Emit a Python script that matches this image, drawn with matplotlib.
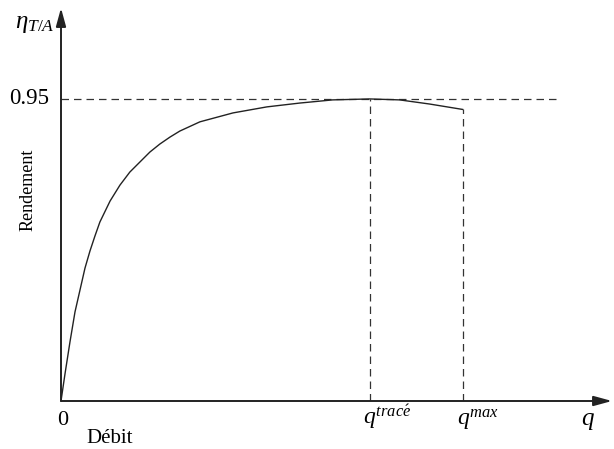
import matplotlib.pyplot as plt
import numpy as np

plt.rcParams['font.family'] = 'Liberation Serif'
plt.rcParams['mathtext.fontset'] = 'custom'
plt.rcParams['mathtext.rm'] = 'Liberation Serif'
plt.rcParams['mathtext.it'] = 'Liberation Serif:italic'

# efficiency curve, flow in units of q_trace
q = [0.0, 0.0129, 0.0291, 0.0453, 0.0615, 0.0777, 0.0939, 0.110, 0.126,
     0.159, 0.191, 0.223, 0.256, 0.288, 0.320, 0.353, 0.385, 0.450, 0.557,
     0.667, 0.773, 0.880, 1.0, 1.097, 1.194, 1.301]
eta = [0.0, 0.085, 0.186, 0.280, 0.349, 0.418, 0.472, 0.519, 0.563,
       0.629, 0.679, 0.720, 0.752, 0.783, 0.808, 0.830, 0.849, 0.878, 0.906,
       0.925, 0.937, 0.947, 0.95, 0.947, 0.934, 0.917]

eta_max = 0.95
q_trace = 1.0
q_max = 1.301
x_end = 1.785
y_end = 1.236

W, H = 614, 449
fig = plt.figure(figsize=(W / 100, H / 100), dpi=100)
ax = fig.add_axes([61 / W, (H - 401) / H, (612 - 61) / W, (401 - 8) / H])
ax.set_xlim(0, x_end)
ax.set_ylim(0, y_end)
ax.axis('off')

ink = '#222222'

# axes with arrow heads
arr = dict(arrowstyle='-|>,head_length=1.1,head_width=0.3', color=ink,
           lw=1.4, mutation_scale=10, shrinkA=0, shrinkB=0)
ax.annotate('', xy=(x_end, 0), xytext=(0, 0), arrowprops=arr, annotation_clip=False)
ax.annotate('', xy=(0, y_end), xytext=(0, 0), arrowprops=arr, annotation_clip=False)

# reference lines
dash = dict(color='#333333', lw=0.9, ls=(0, (6, 4)))
ax.plot([0, 1.605], [eta_max, eta_max], **dash)
ax.plot([q_trace, q_trace], [0, eta_max], **dash)
ax.plot([q_max, q_max], [0, eta[-1]], **dash)

ax.plot(q, eta, color=ink, lw=1.0)

# labels
ax.text(0.005, -0.0755, '0', fontsize=16, ha='center', va='baseline')
ax.text(-0.039, eta_max, '0.95', fontsize=16.5, ha='right', va='center')
ax.text(0.977, -0.0755, r'$q^{trac\acute{e}}$', fontsize=17, ha='left', va='baseline')
ax.text(1.282, -0.0755, r'$q^{max}$', fontsize=17, ha='left', va='baseline')
ax.text(1.686, -0.0755, r'$q$', fontsize=18, ha='left', va='baseline')
ax.text(0.159, -0.133, 'Débit', fontsize=15, ha='center', va='baseline')
ax.text(-0.02, 1.173, r'$\eta_{T/A}$', fontsize=18, ha='right', va='baseline')
fig.text(28 / W, 1 - 190 / H, 'Rendement', fontsize=13, rotation=90,
         ha='center', va='center')

fig.savefig('out.png', dpi=100)
